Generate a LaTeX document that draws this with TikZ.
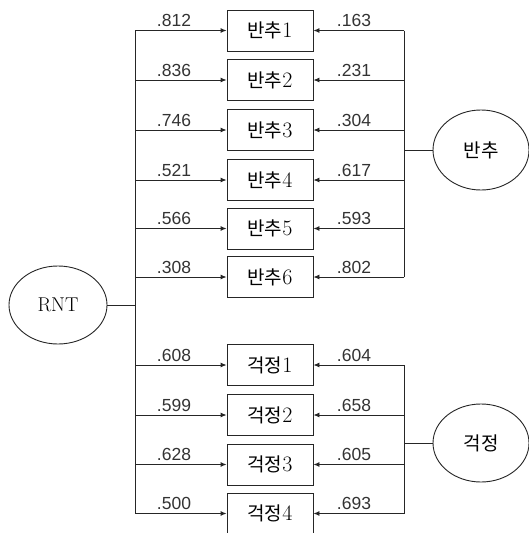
\documentclass[tikz,border=0pt]{standalone}
\usepackage{fontspec}
\newfontfamily\kr{Noto Sans CJK KR}
\newfontfamily\lab{Liberation Sans}
\usetikzlibrary{arrows.meta,shapes.geometric}
\begin{document}
\begin{tikzpicture}[x=1pt,y=-1pt,
  ln/.style={draw=black!85,line width=0.9pt},
  arr/.style={ln,-{Latex[length=6pt,width=5pt]}},
  obs/.style={draw=black!85,line width=0.9pt,minimum width=86pt,minimum height=41pt,inner sep=0pt,font=\fontsize{22}{22}\selectfont},
  lat/.style={draw=black!85,line width=0.9pt,ellipse,minimum width=96pt,minimum height=78pt,inner sep=0pt},
  ld/.style={font=\lab\fontsize{17.5}{17.5}\selectfont,text=black!80,inner sep=0pt}]
\useasboundingbox (0,0) rectangle (528,533);
\fill[white] (0,0) rectangle (528,533);
% observed
\foreach \i/\y in {1/30.5,2/80,3/130,4/180,5/228.5,6/277}{
  \node[obs] (b\i) at (270,\y) {{\kr\fontsize{19}{19}\selectfont 반추}\i};
}
\foreach \i/\y in {1/365,2/415,3/464.5,4/513.5}{
  \node[obs] (g\i) at (270,\y) {{\kr\fontsize{19}{19}\selectfont 걱정}\i};
}
% latent
\node[lat,minimum width=98pt,font=\fontsize{20}{20}\selectfont] (RNT) at (58,305) {RNT};
\node[lat,minimum height=80pt,font=\kr\fontsize{19}{19}\selectfont] (B) at (481,150) {반추};
\node[lat,font=\kr\fontsize{19}{19}\selectfont] (G) at (481,443) {걱정};
% buses
\coordinate (L) at (135,0);
\coordinate (R) at (404,0);
\draw[ln] (L|-b1) -- (L|-g4);
\draw[ln] (RNT.east) -- (L|-RNT);
\draw[ln] (R|-b1) -- (R|-b6);
\draw[ln] (B.west) -- (R|-B);
\draw[ln] (R|-g1) -- (R|-g4);
\draw[ln] (G.west) -- (R|-G);
% arrows and labels
\foreach \n/\a/\b in {b1/.812/.163,b2/.836/.231,b3/.746/.304,b4/.521/.617,b5/.566/.593,b6/.308/.802,g1/.608/.604,g2/.599/.658,g3/.628/.605,g4/.500/.693}{
  \draw[arr] (L|-\n.west) -- (\n.west);
  \draw[arr] (R|-\n.east) -- (\n.east);
  \node[ld] at ([xshift=39pt,yshift=10pt]L|-\n.west) {\a};
  \node[ld] at ([xshift=-50pt,yshift=10pt]R|-\n.east) {\b};
}
\end{tikzpicture}
\end{document}
